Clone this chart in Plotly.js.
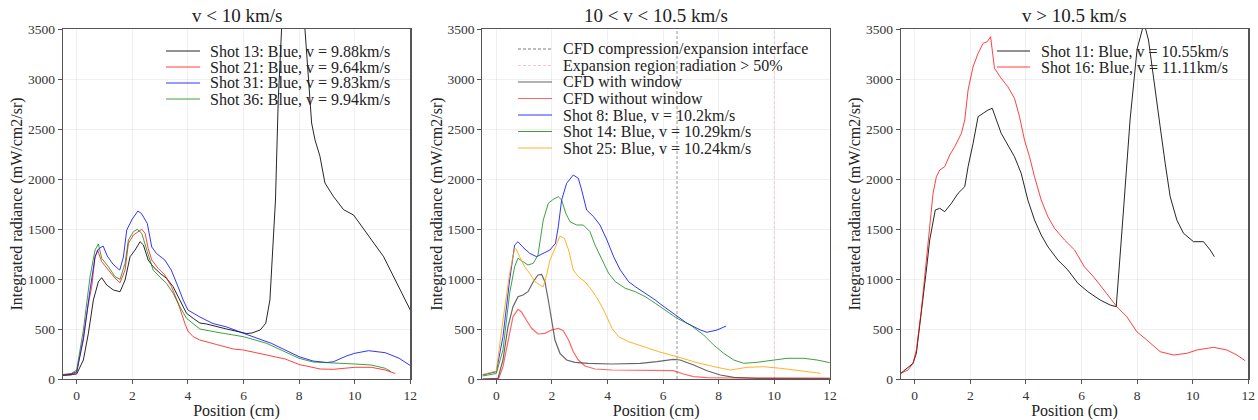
<!DOCTYPE html>
<html>
<head>
<meta charset="utf-8">
<script src="https://cdn.plot.ly/plotly-3.0.1.min.js"></script>
<style>html,body{margin:0;padding:0;background:#fff}#chart{width:1258px;height:420px}</style>
</head>
<body>
<div id="chart"></div>
<script>
// ---------- Panel 1: v < 10 km/s ----------
var s13x = [-0.5,-0.2,0,0.24,0.42,0.6,0.78,0.9,1.08,1.32,1.56,1.74,1.92,2.1,2.28,2.4,2.57,2.75,3.0,3.23,3.47,3.71,3.95,4.19,4.43,4.67,5.0,5.39,5.87,6.1,6.3,6.6,6.8,6.95,7.05,7.15,7.25,7.37,7.6,7.8,8.0,8.21,8.45,8.57,8.75,8.93,9.23,9.6,9.96,10.44,11.04,11.52,12.0];
var s13y = [35,40,50,190,457,790,973,1013,940,890,873,990,1223,1290,1373,1340,1190,1123,1057,1007,923,790,657,607,560,550,525,500,470,455,460,490,557,790,1290,1790,2793,3500,4300,4500,4200,3500,2560,2393,2227,1960,1827,1693,1640,1457,1223,957,690];
var s21x = [-0.5,-0.2,0,0.24,0.42,0.54,0.66,0.75,0.9,1.14,1.38,1.56,1.74,1.86,2.04,2.34,2.46,2.57,2.7,2.93,3.17,3.41,3.65,3.89,4.0,4.19,4.43,5.03,5.64,6.0,6.83,7.5,8.0,8.76,9.24,10.0,10.6,11.1,11.46];
var s21y = [35,40,65,420,757,923,1223,1290,1173,1090,1007,963,1090,1357,1440,1497,1457,1307,1190,1107,1040,923,757,557,480,423,390,345,300,290,240,200,145,100,97,117,117,90,55];
var s31x = [-0.5,-0.2,0,0.24,0.48,0.66,0.78,0.95,1.1,1.3,1.5,1.55,1.68,1.8,2.0,2.2,2.33,2.54,2.7,2.87,3.17,3.4,3.65,3.83,4.0,4.43,4.9,5.4,6.0,6.83,7.0,8.0,8.5,9.0,9.24,9.7,10.0,10.5,10.8,11.1,11.6,12.0];
var s31y = [40,50,73,390,890,1220,1300,1330,1230,1150,1100,1090,1220,1490,1600,1680,1655,1555,1320,1255,1190,1090,920,790,690,620,555,520,457,373,357,223,180,165,173,230,257,283,275,263,207,135];
var s36x = [-0.5,-0.2,0,0.24,0.48,0.66,0.78,0.9,1.14,1.38,1.56,1.74,1.86,2.04,2.18,2.34,2.54,2.75,3.0,3.23,3.47,3.71,3.95,4.19,4.43,5.0,5.5,6.0,6.83,7.5,8.0,8.5,9.24,10.0,10.6,11.1,11.3];
var s36y = [45,55,90,490,1023,1290,1350,1207,1123,1023,997,1157,1390,1473,1497,1457,1273,1090,1017,957,857,723,607,557,500,470,450,423,357,273,207,170,163,150,140,107,75];

// ---------- Panel 2: 10 < v < 10.5 km/s ----------
var interfaceX = 6.5;      // CFD compression/expansion interface
var expansionX = 10;       // Expansion region radiation > 50%
var cfdWinX = [-0.5,0,0.06,0.24,0.42,0.6,0.78,0.96,1.14,1.33,1.5,1.63,1.75,1.87,1.99,2.11,2.29,2.53,2.83,3.31,4.16,5.18,5.78,6.37,6.61,7.1,7.58,8.06,8.54,9.38,12];
var cfdWinY = [0,0,7,190,523,723,823,840,873,973,1040,1045,973,790,590,390,257,190,167,157,150,157,173,197,190,140,83,40,17,7,5];
var cfdNoWinX = [-0.5,0,0.08,0.24,0.42,0.6,0.78,0.9,1.08,1.27,1.5,1.75,1.99,2.23,2.41,2.6,2.77,2.95,3.19,3.55,4.16,5.18,6.14,6.37,6.73,7.1,7.58,8.5,12];
var cfdNoWinY = [0,0,0,123,390,623,697,673,590,507,450,457,490,507,483,390,273,190,130,100,90,88,85,83,50,23,13,10,10];
var s8x = [-0.5,0,0.24,0.48,0.66,0.78,0.96,1.2,1.45,1.69,1.93,2.13,2.23,2.35,2.53,2.77,2.95,3.07,3.25,3.5,3.73,3.98,4.22,4.46,4.76,5.0,5.36,5.72,5.9,6.37,6.86,7.34,7.58,7.94,8.27];
var s8y = [40,73,423,990,1340,1373,1317,1257,1223,1257,1290,1357,1523,1790,1957,2040,2007,1890,1690,1623,1540,1390,1223,1090,973,923,860,790,750,657,557,490,467,490,530];
var s14x = [-0.5,0,0.24,0.48,0.66,0.78,0.96,1.14,1.33,1.5,1.69,1.87,2.05,2.23,2.35,2.5,2.65,2.89,3.13,3.37,3.55,3.8,4.04,4.28,4.64,5.0,5.36,5.72,5.9,6.5,6.98,7.46,7.82,8.18,8.54,8.9,9.38,9.98,10.46,11.06,11.54,12.0];
var s14y = [30,55,290,857,1123,1207,1173,1140,1157,1240,1590,1757,1797,1823,1790,1657,1573,1540,1540,1473,1340,1190,1057,973,907,873,823,757,723,607,540,440,340,257,190,157,167,190,207,207,190,163];
var s25x = [-0.5,0,0.24,0.48,0.66,0.72,0.84,1.02,1.2,1.39,1.57,1.69,1.81,1.93,2.11,2.29,2.45,2.6,2.77,2.95,3.19,3.43,3.67,3.92,4.16,4.4,4.76,5.12,5.48,5.84,6.5,7.22,7.94,8.42,9.02,9.62,10.22,10.94,11.66];
var s25y = [45,80,590,1057,1307,1297,1223,1123,1057,973,940,923,1040,1190,1307,1430,1407,1290,1090,1023,973,890,790,657,507,423,373,340,307,273,223,163,117,90,117,123,107,83,57];

// ---------- Panel 3: v > 10.5 km/s ----------
var s11x = [-0.5,-0.06,0.06,0.24,0.42,0.54,0.66,0.74,0.9,1.08,1.32,1.56,1.8,1.92,2.1,2.28,2.46,2.64,2.79,2.95,3.11,3.35,3.59,3.83,4.07,4.31,4.55,4.79,5.15,5.51,5.87,6.23,6.67,7.03,7.25,7.5,7.75,8.0,8.25,8.41,8.65,8.83,9.01,9.19,9.43,9.67,10.03,10.39,10.63,10.78];
var s11y = [57,157,257,657,1090,1390,1590,1690,1707,1673,1757,1857,1923,2123,2357,2623,2657,2690,2707,2590,2457,2340,2223,2057,1790,1590,1440,1323,1190,1090,957,873,790,740,723,1650,2600,3300,3560,3390,2923,2523,2157,1823,1590,1457,1373,1373,1290,1223];
var s16x = [-0.5,-0.24,-0.06,0.06,0.24,0.42,0.54,0.66,0.78,0.9,1.08,1.26,1.44,1.68,1.8,1.92,2.1,2.28,2.46,2.61,2.73,2.87,3.11,3.35,3.59,3.77,3.95,4.13,4.31,4.55,4.79,5.03,5.39,5.75,6.1,6.43,6.9,7.27,7.63,7.99,8.35,8.83,9.31,9.79,10.15,10.75,11.23,11.59,11.89];
var s16y = [57,90,157,290,690,1190,1590,1857,2023,2090,2123,2240,2323,2457,2590,2890,3123,3257,3357,3373,3423,3107,3007,2923,2807,2623,2390,2223,2023,1790,1623,1507,1390,1290,1123,1023,857,723,623,473,390,273,240,257,290,317,290,240,183];

// ---------- Labels ----------
var panelTitles = ['v < 10 km/s', '10 < v < 10.5 km/s', 'v > 10.5 km/s'];
var xTitle = 'Position (cm)';
var yTitle = 'Integrated radiance (mW/cm2/sr)';
var names1 = ['Shot 13: Blue, v = 9.88km/s','Shot 21: Blue, v = 9.64km/s','Shot 31: Blue, v = 9.83km/s','Shot 36: Blue, v = 9.94km/s'];
var names2 = ['CFD compression/expansion interface','Expansion region radiation > 50%','CFD with window','CFD without window','Shot 8: Blue, v = 10.2km/s','Shot 14: Blue, v = 10.29km/s','Shot 25: Blue, v = 10.24km/s'];
var names3 = ['Shot 11: Blue, v = 10.55km/s','Shot 16: Blue, v = 11.11km/s'];

// ---------- Styles ----------
var C = {
  black: 'rgba(0,0,0,0.85)', red: 'rgba(255,0,0,0.75)', blue: 'rgba(0,0,255,0.8)',
  green: 'rgba(0,128,0,0.75)', orange: 'rgba(255,165,0,0.85)',
  cfdBlack: 'rgba(0,0,0,0.6)', cfdRed: 'rgba(255,0,0,0.6)',
  grey: 'rgba(90,90,90,0.8)', pink: 'rgba(255,120,140,0.45)'
};
var FONT = 'Liberation Serif, Times New Roman, serif';
var W = 1258, H = 420;

function line(x, y, color, xa, ya, dash, w) {
  return {x: x, y: y, type: 'scatter', mode: 'lines', xaxis: xa, yaxis: ya,
          line: {color: color, width: w || 1, dash: dash || 'solid'}, showlegend: false, hoverinfo: 'skip'};
}

var traces = [
  line(s13x, s13y, C.black, 'x', 'y'),
  line(s21x, s21y, C.red, 'x', 'y'),
  line(s31x, s31y, C.blue, 'x', 'y'),
  line(s36x, s36y, C.green, 'x', 'y'),
  line([interfaceX, interfaceX], [0, 3500], C.grey, 'x2', 'y2', '3px,2px', 0.8),
  line([expansionX, expansionX], [0, 3500], C.pink, 'x2', 'y2', '3px,2px', 0.8),
  line(cfdWinX, cfdWinY, C.cfdBlack, 'x2', 'y2', null, 1.2),
  line(cfdNoWinX, cfdNoWinY, C.cfdRed, 'x2', 'y2', null, 1.2),
  line(s8x, s8y, C.blue, 'x2', 'y2'),
  line(s14x, s14y, C.green, 'x2', 'y2'),
  line(s25x, s25y, C.orange, 'x2', 'y2'),
  line(s11x, s11y, C.black, 'x3', 'y3'),
  line(s16x, s16y, C.red, 'x3', 'y3')
];

function xax(dom) {
  return {domain: dom, range: [-0.5, 12], tickvals: [0,2,4,6,8,10,12], ticks: 'outside', ticklen: 4,
    tickcolor: '#555', showline: true, linecolor: '#555', linewidth: 1.2, mirror: true,
    showgrid: true, gridcolor: 'rgba(0,0,0,0.06)', zeroline: false,
    tickfont: {family: FONT, size: 13.5, color: '#333'},
    title: {text: xTitle, font: {family: FONT, size: 16, color: '#222'}, standoff: 4}};
}
function yax(anchor) {
  return {domain: [1 - 379 / H, 1 - 29 / H], anchor: anchor, range: [0, 3500], tickvals: [0,500,1000,1500,2000,2500,3000,3500],
    ticks: 'outside', ticklen: 4, tickcolor: '#555', showline: true, linecolor: '#555', linewidth: 1.2, mirror: true,
    showgrid: true, gridcolor: 'rgba(0,0,0,0.06)', zeroline: false,
    tickfont: {family: FONT, size: 13.5, color: '#333'},
    title: {text: yTitle, font: {family: FONT, size: 16, color: '#222'}, standoff: 1}};
}

var d1 = [62.8 / W, 410.3 / W], d2 = [482.4 / W, 829.9 / W], d3 = [900.8 / W, 1248.3 / W];
var shapes = [], annotations = [];
[d1, d2, d3].forEach(function (d, i) {
  annotations.push({xref: 'paper', yref: 'paper', x: (d[0] + d[1]) / 2, y: 1 - 16 / H, xanchor: 'center', yanchor: 'middle',
    showarrow: false, text: panelTitles[i], font: {family: FONT, size: 19, color: '#222'}});
});

function legend(names, colors, dashes, lx0, lx1, tx, ytop, step) {
  names.forEach(function (n, i) {
    var yy = 1 - (ytop + i * step) / H;
    shapes.push({type: 'line', xref: 'paper', yref: 'paper', x0: lx0 / W, x1: lx1 / W, y0: yy, y1: yy,
      line: {color: colors[i], width: 1.2, dash: dashes[i] || 'solid'}});
    annotations.push({xref: 'paper', yref: 'paper', x: tx / W, y: yy, xanchor: 'left', yanchor: 'middle',
      showarrow: false, text: n, font: {family: FONT, size: 16, color: '#222'}});
  });
}
legend(names1, [C.black, C.red, C.blue, C.green], [], 166, 200, 208, 51, 16);
legend(names2, [C.grey, C.pink, C.cfdBlack, C.cfdRed, C.blue, C.green, C.orange], ['3px,2px', '3px,2px'], 518, 552, 561, 49, 16.5);
legend(names3, [C.black, C.red], [], 997, 1030, 1039, 51, 16);

var layout = {
  width: W, height: H, margin: {l: 0, r: 0, t: 0, b: 0}, paper_bgcolor: '#fff', plot_bgcolor: '#fff',
  showlegend: false, font: {family: FONT},
  xaxis: xax(d1), yaxis: yax('x'),
  xaxis2: Object.assign(xax(d2), {anchor: 'y2'}), yaxis2: yax('x2'),
  xaxis3: Object.assign(xax(d3), {anchor: 'y3'}), yaxis3: yax('x3'),
  shapes: shapes, annotations: annotations
};
layout.xaxis.anchor = 'y';
Plotly.newPlot('chart', traces, layout, {staticPlot: true});
</script>
</body>
</html>
